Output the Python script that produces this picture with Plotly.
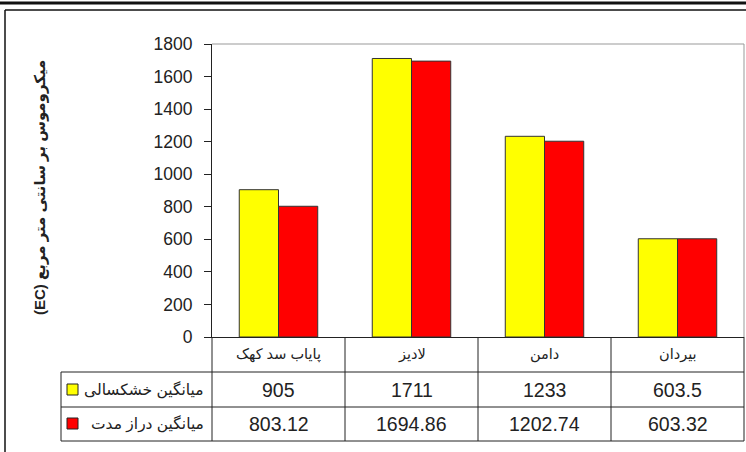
import plotly.graph_objects as go

categories = ["پایاب سد کهک", "لادیز", "دامن", "بیردان"]
drought_mean = [905, 1711, 1233, 603.5]
longterm_mean = [803.12, 1694.86, 1202.74, 603.32]
drought_labels = ["905", "1711", "1233", "603.5"]
longterm_labels = ["803.12", "1694.86", "1202.74", "603.32"]
series_names = ["میانگین خشکسالی", "میانگین دراز مدت"]
y_title = "(EC) میکروموس بر سانتی متر مربع"
y_ticks = [0, 200, 400, 600, 800, 1000, 1200, 1400, 1600, 1800]

W, H = 746, 452
FONT = "Arial, 'Liberation Sans', 'DejaVu Sans', sans-serif"


def px(x):
    return x / W


def py(y):
    return 1 - y / H


fig = go.Figure()
fig.add_trace(go.Bar(x=categories, y=drought_mean, name=series_names[0],
                     marker=dict(color="#FFFF00", line=dict(color="#333333", width=1))))
fig.add_trace(go.Bar(x=categories, y=longterm_mean, name=series_names[1],
                     marker=dict(color="#FF0000", line=dict(color="#333333", width=1))))

shapes = []
line_black = dict(color="#222222", width=1)
# outer frame
shapes.append(dict(type="line", xref="paper", yref="paper", x0=px(0), x1=px(746), y0=py(3), y1=py(3),
                   line=dict(color="#111111", width=3)))
shapes.append(dict(type="line", xref="paper", yref="paper", x0=px(5), x1=px(746), y0=py(10), y1=py(10),
                   line=dict(color="#111111", width=1.5)))
shapes.append(dict(type="line", xref="paper", yref="paper", x0=px(5), x1=px(5), y0=py(10), y1=py(452),
                   line=dict(color="#111111", width=1.5)))
# plot area top / right border
shapes.append(dict(type="line", xref="paper", yref="paper", x0=px(212), x1=px(744), y0=py(44), y1=py(44),
                   line=dict(color="#999999", width=1)))
shapes.append(dict(type="line", xref="paper", yref="paper", x0=px(744), x1=px(744), y0=py(44), y1=py(337),
                   line=dict(color="#999999", width=1)))
# table lines
shapes.append(dict(type="line", xref="paper", yref="paper", x0=px(212), x1=px(212), y0=py(337), y1=py(441),
                   line=line_black))
shapes.append(dict(type="line", xref="paper", yref="paper", x0=px(744), x1=px(744), y0=py(337), y1=py(441),
                   line=line_black))
shapes.append(dict(type="line", xref="paper", yref="paper", x0=px(61), x1=px(61), y0=py(372), y1=py(441),
                   line=line_black))
for yy in (372, 407, 441):
    shapes.append(dict(type="line", xref="paper", yref="paper", x0=px(61), x1=px(744), y0=py(yy), y1=py(yy),
                       line=line_black))
for i in range(len(categories) - 1):
    shapes.append(dict(type="line", xref="x", yref="paper", x0=i + 0.5, x1=i + 0.5, y0=py(337), y1=py(441),
                       line=line_black))
# legend keys
shapes.append(dict(type="rect", xref="paper", yref="paper", x0=px(67), x1=px(78), y0=py(395), y1=py(384),
                   fillcolor="#FFFF00", line=dict(color="#222222", width=1)))
shapes.append(dict(type="rect", xref="paper", yref="paper", x0=px(67), x1=px(78), y0=py(429), y1=py(418),
                   fillcolor="#FF0000", line=dict(color="#222222", width=1)))

annotations = []
for i, c in enumerate(categories):
    annotations.append(dict(x=c, xref="x", y=py(354.5), yref="paper", yanchor="middle", xanchor="center",
                            text=c, showarrow=False,
                            font=dict(size=14.5, color="#222222", family=FONT)))
    annotations.append(dict(x=c, xref="x", y=py(389.5), yref="paper", yanchor="middle", xanchor="center",
                            text=drought_labels[i], showarrow=False,
                            font=dict(size=19.5, color="#222222", family=FONT)))
    annotations.append(dict(x=c, xref="x", y=py(424), yref="paper", yanchor="middle", xanchor="center",
                            text=longterm_labels[i], showarrow=False,
                            font=dict(size=19.5, color="#222222", family=FONT)))
annotations.append(dict(x=px(206), y=py(389.5), xref="paper", yref="paper", xanchor="right", yanchor="middle",
                        text=series_names[0], showarrow=False,
                        font=dict(size=15.5, color="#222222", family=FONT)))
annotations.append(dict(x=px(206), y=py(424), xref="paper", yref="paper", xanchor="right", yanchor="middle",
                        text=series_names[1], showarrow=False,
                        font=dict(size=15.5, color="#222222", family=FONT)))
annotations.append(dict(x=px(40), y=py(188), xref="paper", yref="paper", xanchor="center", yanchor="middle",
                        text="<b>" + y_title + "</b>",
                        textangle=-90, showarrow=False, font=dict(size=15, color="#222222", family=FONT)))

fig.update_layout(
    width=W, height=H,
    margin=dict(l=0, r=0, t=0, b=0, pad=0, autoexpand=False),
    paper_bgcolor="white", plot_bgcolor="white",
    barmode="group", bargap=0.41, bargroupgap=0,
    showlegend=False,
    font=dict(family=FONT, color="#222222"),
    xaxis=dict(domain=[px(212), px(744)], range=[-0.5, 3.5], showticklabels=False, ticks="",
               showline=True, linecolor="#222222", linewidth=1, showgrid=False, zeroline=False,
               fixedrange=True, automargin=False),
    yaxis=dict(domain=[py(337), py(44)], range=[0, 1800], tickvals=y_ticks, ticks="outside",
               ticklen=7, tickcolor="#222222", showline=True, linecolor="#222222", linewidth=1,
               showgrid=False, zeroline=False, tickfont=dict(size=17.5, color="#222222", family=FONT),
               ticklabelstandoff=8, fixedrange=True, automargin=False),
    shapes=shapes,
    annotations=annotations,
)

post = (
    "document.body.style.margin='0';"
    "document.documentElement.style.overflow='hidden';"
    "document.body.style.overflow='hidden';"
    "var gd=document.getElementById('{plot_id}');"
    "gd.style.position='fixed';gd.style.top='0px';gd.style.left='0px';"
)
fig.write_html("out.html", config={"displayModeBar": False}, post_script=post)
